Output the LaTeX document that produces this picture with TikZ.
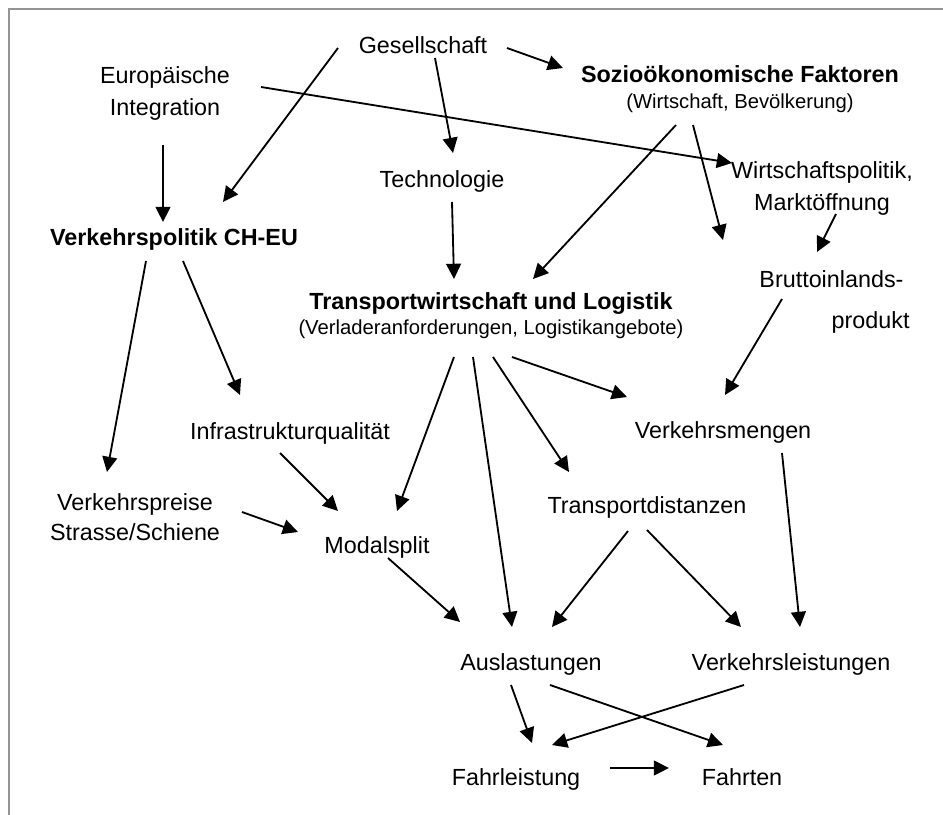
\documentclass[tikz,border=0pt]{standalone}
\usepackage{fontspec}
\setmainfont{Liberation Sans}
\usetikzlibrary{arrows.meta,calc}
\newcommand\subtxt{\fontsize{14.4pt}{17pt}\selectfont}

\begin{document}
\begin{tikzpicture}[x=0.025cm, y=-0.025cm,
        lbl/.style={inner sep=0pt, font=\fontsize{16.6pt}{22.8pt}\selectfont},
        one/.style={lbl, text height=12.1pt, text depth=3.5pt},
        two/.style={lbl, align=center},
        arr/.style={-{Triangle[length=0.38cm, width=0.37cm]}, line width=1.3pt}]
        \useasboundingbox (0,0) rectangle (943,815);

        % Frame
        \draw[line width=1.4pt, black!42] (943,9) -- (9,9) -- (9,815);

        % Top row
        \node[one] (gesell) at (423,47) {Gesellschaft};
        \node[two] (europa) at (165,93) {Europäische\\Integration};
        \node[two] (sozio) at (740,89) {\textbf{Sozioökonomische Faktoren}\\[-4.3pt]{\subtxt (Wirtschaft, Bevölkerung)}};
        \node[one] (techno) at (442,181) {Technologie};
        \node[two] (wpol) at (822,188) {Wirtschaftspolitik,\\Marktöffnung};
        \node[one] (vpol) at (174,239) {\textbf{Verkehrspolitik CH-EU}};
        \node[two] (transp) at (491,316) {\textbf{Transportwirtschaft und Logistik}\\[-5pt]{\subtxt (Verladeranforderungen, Logistikangebote)}};
        \node[two, align=right] (brutto) at (834.5,302) {Bruttoinlands-\hspace*{4.3pt}\\[5.9pt]produkt};

        % Middle
        \node[one] (infra) at (290,433) {Infrastrukturqualität};
        \node[one] (vmengen) at (723,432) {Verkehrsmengen};
        \node[two] (vpreise) at (135,517) {Verkehrspreise\\[-1.4pt]Strasse/Schiene};
        \node[one] (tdist) at (647,507) {Transportdistanzen};
        \node[one] (modal) at (377,547) {Modalsplit};

        % Bottom
        \node[one] (ausl) at (531,664) {Auslastungen};
        \node[one] (vleist) at (791,664) {Verkehrsleistungen};
        \node[one] (fahrl) at (516,779) {Fahrleistung};
        \node[one] (fahrt) at (742,779) {Fahrten};

        % Arrows
        \draw[arr] ($(gesell)+(84,1)$) -- ($(sozio)+(-177,-21)$);
        \draw[arr] ($(gesell)+(12,11)$) -- ($(techno)+(11,-28)$);
        \draw[arr] ($(gesell)+(-85,1)$) -- ($(vpol)+(49,-37)$);
        \draw[arr] ($(europa)+(96,-6)$) -- ($(wpol)+(-90,-25)$);
        \draw[arr] ($(europa)+(-2,52)$) -- ($(vpol)+(-11,-17)$);
        \draw[arr] ($(sozio)+(-64,36)$) -- ($(transp)+(42,-37)$);
        \draw[arr] ($(sozio)+(-47,36)$) -- ($(brutto)+(-111.5,-62)$);
        \draw[arr] ($(wpol)+(14,26)$) -- ($(brutto)+(-17.5,-50)$);
        \draw[arr] ($(techno)+(10,21)$) -- ($(transp)+(-37,-37)$);
        \draw[arr] ($(vpol)+(-28,22)$) -- ($(vpreise)+(-28,-45)$);
        \draw[arr] ($(vpol)+(9,22)$) -- ($(infra)+(-50,-38)$);
        \draw[arr] ($(transp)+(21,41)$) -- ($(vmengen)+(-96,-35)$);
        \draw[arr] ($(transp)+(2,41)$) -- ($(tdist)+(-78,-35)$);
        \draw[arr] ($(transp)+(-18,41)$) -- ($(ausl)+(-19,-37)$);
        \draw[arr] ($(transp)+(-37,41)$) -- ($(modal)+(20,-36)$);
        \draw[arr] ($(brutto)+(-52.5,-3)$) -- ($(vmengen)+(2,-37)$);
        \draw[arr] ($(infra)+(-10,20)$) -- ($(modal)+(-39,-36)$);
        \draw[arr] ($(vpreise)+(107,-5)$) -- ($(modal)+(-79,-15)$);
        \draw[arr] ($(modal)+(11,11)$) -- ($(ausl)+(-71,-42)$);
        \draw[arr] ($(tdist)+(-19,24)$) -- ($(ausl)+(21,-37)$);
        \draw[arr] ($(tdist)+(0,23)$) -- ($(vleist)+(-50,-37)$);
        \draw[arr] ($(vmengen)+(59,21)$) -- ($(vleist)+(9,-37)$);
        \draw[arr] ($(ausl)+(-20,21)$) -- ($(fahrl)+(16,-36)$);
        \draw[arr] ($(ausl)+(19,21)$) -- ($(fahrt)+(-19,-34)$);
        \draw[arr] ($(vleist)+(-47,21)$) -- ($(fahrl)+(36,-34)$);
        \draw[arr] ($(fahrl)+(94,-11)$) -- ($(fahrt)+(-73,-11)$);
\end{tikzpicture}
\end{document}
